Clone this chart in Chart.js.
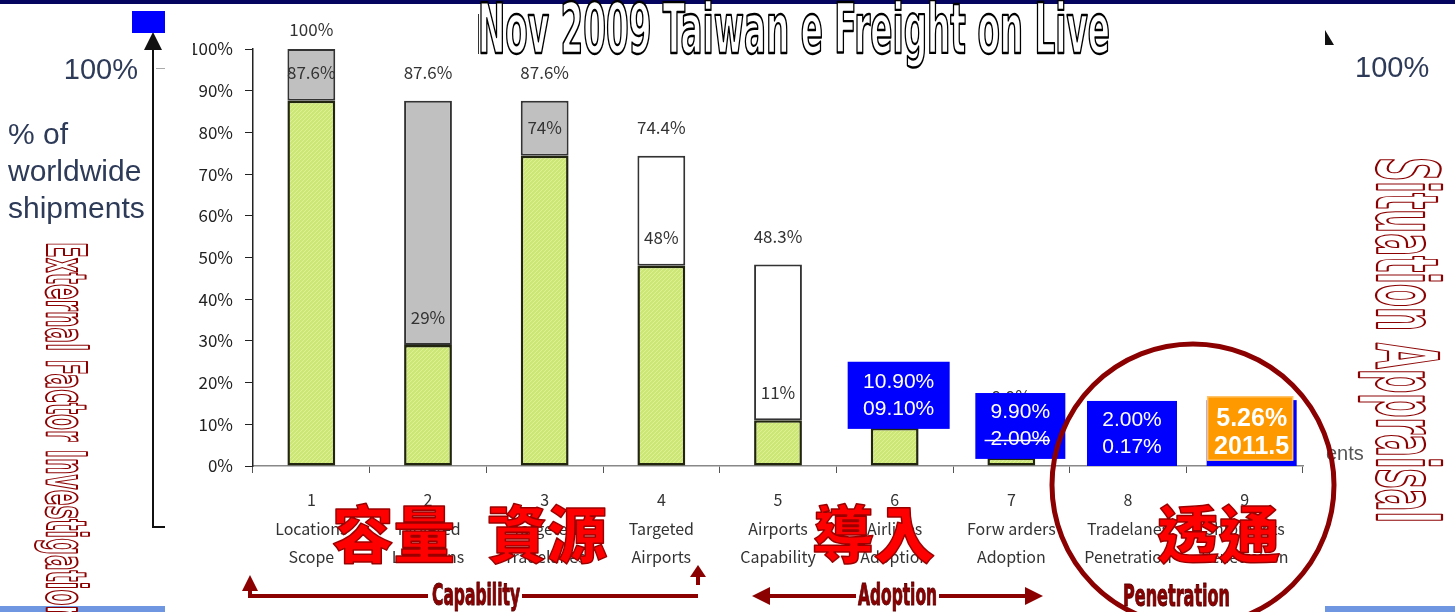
<!DOCTYPE html>
<html>
<head>
<meta charset="utf-8">
<script src="https://cdn.jsdelivr.net/npm/chart.js@4.4.0/dist/chart.umd.min.js"></script>
<style>
  html, body { margin: 0; padding: 0; background: #fff; }
  #wrap { position: relative; width: 1455px; height: 612px; }
</style>
</head>
<body>
<div id="wrap"><canvas id="freightChart"></canvas></div>
<script>
// chart data
const categoryNumbers = ['1', '2', '3', '4', '5', '6', '7', '8', '9'];
const categoryNames = [
  ['Locations', 'Scope'], ['Targeted', 'Locations'], ['Targeted', 'Tradelanes'],
  ['Targeted', 'Airports'], ['Airports', 'Capability'], ['Airlines', 'Adoption'],
  ['Forw arders', 'Adoption'], ['Tradelanes', 'Penetration'], ['Shipments', 'Penetration']
];
const achieved = [87.6, 29, 74.4, 48, 11, 9.1, 2.0, 0.17, null];
const target = [100, 87.6, 87.6, 74.4, 48.3, 10.9, 9.9, 2.0, 5.26];
const topLabels = ['100%', '87.6%', '87.6%', '74.4%', '48.3%', '10.9%', '9.9%', '2.0%', '5.26%'];
const innerLabels = ['87.6%', '29%', '74%', '48%', '11%', '', '', '', ''];
const yTicks = [0, 10, 20, 30, 40, 50, 60, 70, 80, 90, 100];
const boxLabels = [['10.90%', '09.10%'], ['9.90%', '2.00%'], ['2.00%', '0.17%'], ['5.26%', '2011.5']];

const remainder = target.map((t, i) => t - (achieved[i] || 0));
const labels = categoryNumbers.map((n, i) => [n, ...categoryNames[i]]);

// hatched green fill
function greenPattern() {
  const c = document.createElement('canvas');
  c.width = 4; c.height = 4;
  const g = c.getContext('2d');
  g.fillStyle = 'rgb(204,231,118)';
  g.fillRect(0, 0, 4, 4);
  g.strokeStyle = 'rgb(222,240,150)';
  g.lineWidth = 1;
  g.beginPath();
  g.moveTo(0, 4); g.lineTo(4, 0);
  g.stroke();
  return g.createPattern(c, 'repeat');
}

function fitText(ctx, text, x, y, width, font, fill, stroke, lw, angle) {
  ctx.save();
  ctx.translate(x, y);
  if (angle) ctx.rotate(angle);
  ctx.font = font;
  ctx.textAlign = 'left';
  const w = ctx.measureText(text).width;
  ctx.scale(width / w, 1);
  if (fill) { ctx.fillStyle = fill; ctx.fillText(text, 0, 0); }
  if (stroke) {
    ctx.lineWidth = lw; ctx.strokeStyle = stroke; ctx.lineJoin = 'round';
    ctx.strokeText(text, 0, 0);
  }
  ctx.restore();
}

function tri(ctx, pts, color) {
  ctx.fillStyle = color;
  ctx.beginPath();
  ctx.moveTo(pts[0], pts[1]);
  ctx.lineTo(pts[2], pts[3]);
  ctx.lineTo(pts[4], pts[5]);
  ctx.closePath();
  ctx.fill();
}

const barLabels = {
  id: 'barLabels',
  afterDatasetsDraw(chart) {
    const ctx = chart.ctx, x = chart.scales.x, y = chart.scales.y;
    ctx.save();
    ctx.font = '17px "Noto Sans CJK JP"';
    ctx.fillStyle = '#333';
    ctx.textAlign = 'center';
    ctx.textBaseline = 'middle';
    topLabels.forEach((t, i) => {
      const cx = x.getPixelForValue(i);
      ctx.fillText(t, cx, Math.max(y.getPixelForValue(target[i]) - 28, 30));
      if (innerLabels[i]) ctx.fillText(innerLabels[i], cx, y.getPixelForValue(achieved[i]) - 28);
    });
    ctx.restore();
  }
};

const slideDecor = {
  id: 'slideDecor',
  afterDraw(chart) {
    const ctx = chart.ctx, x = chart.scales.x, y = chart.scales.y;
    const dark = '#8b0000';
    ctx.save();

    // top band
    ctx.fillStyle = '#050560';
    ctx.fillRect(0, 0, 1455, 4);
    // bottom strips
    ctx.fillStyle = '#6f96e0';
    ctx.fillRect(0, 606, 165, 6);
    ctx.fillRect(1325, 606, 130, 6);

    // title
    ctx.textBaseline = 'alphabetic';
    fitText(ctx, 'Nov 2009 Taiwan e Freight on Live', 478, 53, 632,
      'bold 69px "DejaVu Sans Condensed", "Liberation Sans"', '#fff', '#000', 2.4);
    ctx.strokeStyle = '#333'; ctx.lineWidth = 1;
    ctx.beginPath(); ctx.moveTo(478.5, 14); ctx.lineTo(478.5, 54); ctx.stroke();

    // left pasted picture
    ctx.fillStyle = '#2d3a58';
    ctx.font = '29px "Liberation Sans"';
    ctx.textAlign = 'right';
    ctx.textBaseline = 'middle';
    ctx.fillText('100%', 138, 71);
    ctx.textAlign = 'left';
    ctx.font = '30px "Liberation Sans"';
    ctx.fillText('% of', 8, 136);
    ctx.fillText('worldwide', 8, 173);
    ctx.fillText('shipments', 8, 210);
    ctx.strokeStyle = '#111'; ctx.lineWidth = 2;
    ctx.beginPath(); ctx.moveTo(153, 45); ctx.lineTo(153, 527); ctx.lineTo(165, 527); ctx.stroke();
    tri(ctx, [153, 32, 144, 50, 162, 50], '#111');
    ctx.strokeStyle = '#aaa'; ctx.lineWidth = 1;
    ctx.beginPath(); ctx.moveTo(156, 68.5); ctx.lineTo(165, 68.5); ctx.stroke();
    ctx.fillStyle = '#0000ff';
    ctx.fillRect(132, 11, 33, 22);

    // right pasted picture
    ctx.fillStyle = '#2d3a58';
    ctx.font = '29px "Liberation Sans"';
    ctx.fillText('100%', 1355, 69);
    ctx.fillStyle = '#555';
    ctx.font = '20px "Liberation Sans"';
    ctx.fillText('ents', 1326, 454);
    tri(ctx, [1325, 30, 1334, 45, 1325, 45], '#111');

    // vertical titles
    ctx.textBaseline = 'alphabetic';
    fitText(ctx, 'External Factor Investigation', 47, 242, 380,
      'bold 55px "DejaVu Sans Condensed", "Liberation Sans"', '#fff', dark, 2, Math.PI / 2);
    fitText(ctx, 'Situation Appraisal', 1377, 157, 366,
      'bold 86px "DejaVu Sans Condensed", "Liberation Sans"', '#fff', dark, 2.2, Math.PI / 2);

    // annotation boxes on bars 6-9
    const boxes = [
      { i: 5, dx: 4, w: 102, top: 25, bottom: 8.9, fill: '#0000ff' },
      { i: 6, dx: 9, w: 90, top: 17.5, bottom: 1.7, fill: '#0000ff' },
      { i: 7, dx: 4, w: 90, top: 15.6, bottom: 0, fill: '#0000ff' },
      { i: 8, dx: 7, w: 90, top: 15.8, bottom: 0, fill: '#0000ff' }
    ];
    boxes.forEach((b, k) => {
      const cx = x.getPixelForValue(b.i) + b.dx;
      const t = y.getPixelForValue(b.top), bt = y.getPixelForValue(b.bottom);
      ctx.fillStyle = b.fill;
      ctx.fillRect(cx - b.w / 2, t, b.w, bt - t);
      if (k === 3) {
        const ot = y.getPixelForValue(16.6), ob = y.getPixelForValue(1.4);
        ctx.fillStyle = '#ff9900';
        ctx.fillRect(cx - 44, ot, 85, ob - ot);
        ctx.strokeStyle = '#ffc468'; ctx.lineWidth = 1.5;
        ctx.strokeRect(cx - 44, ot, 85, ob - ot);
      }
      ctx.fillStyle = '#fff';
      ctx.textAlign = 'center';
      ctx.textBaseline = 'middle';
      ctx.font = k === 3 ? 'bold 25px "Liberation Sans"' : '21px "Liberation Sans"';
      const mid = (t + bt) / 2;
      const gap = k === 3 ? 29 : 27;
      ctx.fillText(boxLabels[k][0], cx, mid - gap / 2 + (k === 3 ? 1 : 0));
      ctx.fillText(boxLabels[k][1], cx, mid + gap / 2);
      if (k === 1) {
        const w = ctx.measureText(boxLabels[k][1]).width;
        ctx.strokeStyle = '#fff'; ctx.lineWidth = 1.5;
        ctx.beginPath();
        ctx.moveTo(cx - w / 2 - 6, mid + gap / 2 + 1);
        ctx.lineTo(cx + w / 2, mid + gap / 2 + 1);
        ctx.stroke();
      }
    });

    // big red CJK words
    ctx.textBaseline = 'middle';
    const cjk = '900 62px "Noto Sans CJK TC"';
    [['容量', 332, 123], ['資源', 487, 120], ['導入', 812, 123], ['透通', 1157, 123]].forEach(c => {
      fitText(ctx, c[0], c[1], 534, c[2], cjk, '#ff0000', '#9a0000', 1.5);
    });

    // penetration circle
    ctx.strokeStyle = '#8b0000';
    ctx.lineWidth = 5;
    ctx.beginPath();
    ctx.arc(1193, 485, 141, 0, Math.PI * 2);
    ctx.stroke();

    // phase arrows
    ctx.strokeStyle = dark; ctx.lineWidth = 4;
    ctx.beginPath();
    ctx.moveTo(250, 589); ctx.lineTo(250, 596); ctx.lineTo(428, 596);
    ctx.moveTo(522, 596); ctx.lineTo(698, 596);
    ctx.moveTo(698, 575); ctx.lineTo(698, 585);
    ctx.moveTo(768, 596); ctx.lineTo(856, 596);
    ctx.moveTo(939, 596); ctx.lineTo(1027, 596);
    ctx.stroke();
    tri(ctx, [250, 575, 242, 591, 258, 591], dark);
    tri(ctx, [698, 565, 690, 577, 706, 577], dark);
    tri(ctx, [752, 596, 770, 587, 770, 605], dark);
    tri(ctx, [1043, 596, 1025, 587, 1025, 605], dark);
    ctx.textBaseline = 'alphabetic';
    const phaseFont = 'bold 30px "DejaVu Sans Condensed", "Liberation Sans"';
    fitText(ctx, 'Capability', 432, 605, 88, phaseFont, dark, '#5a0000', 1);
    fitText(ctx, 'Adoption', 858, 605, 79, phaseFont, dark, '#5a0000', 1);
    fitText(ctx, 'Penetration', 1123, 606, 107, phaseFont, dark, '#5a0000', 1);

    ctx.restore();
  }
};

const ctx = document.getElementById('freightChart').getContext('2d');
const freightChart = new Chart(ctx, {
  type: 'bar',
  data: {
    labels: labels,
    datasets: [
      {
        label: 'achieved',
        data: achieved,
        backgroundColor: greenPattern(),
        borderColor: '#22260f',
        borderWidth: 2.5,
        borderSkipped: false
      },
      {
        label: 'remaining',
        data: remainder,
        backgroundColor: c => (c.dataIndex < 3 ? '#c0c0c0' : '#ffffff'),
        borderColor: '#333',
        borderWidth: 2,
        borderSkipped: false
      }
    ]
  },
  options: {
    responsive: true,
    maintainAspectRatio: false,
    animation: false,
    layout: { padding: { left: 193, top: 49, right: 152, bottom: 26 } },
    datasets: { bar: { categoryPercentage: 1, barPercentage: 0.41 } },
    plugins: {
      legend: { display: false },
      tooltip: { enabled: false }
    },
    scales: {
      x: {
        stacked: true,
        afterFit: s => { s.height = 120; },
        grid: { drawOnChartArea: false, tickLength: 7, color: '#555' },
        border: { color: '#888', width: 1.5 },
        ticks: {
          color: '#333',
          padding: 13,
          maxRotation: 0,
          autoSkip: false,
          font: { family: '"Noto Sans CJK JP"', size: 16, lineHeight: 1.78 }
        }
      },
      y: {
        stacked: true,
        min: 0,
        max: 100,
        afterFit: s => { s.width = 60; },
        afterBuildTicks: s => { s.ticks = yTicks.map(v => ({ value: v })); },
        grid: { drawOnChartArea: false, tickLength: 8, color: '#222' },
        border: { color: '#222', width: 1.5 },
        ticks: {
          color: '#222',
          padding: 12,
          font: { family: '"Noto Sans CJK JP"', size: 17 },
          callback: v => v + '%'
        }
      }
    }
  },
  plugins: [barLabels, slideDecor]
});
</script>
</body>
</html>
